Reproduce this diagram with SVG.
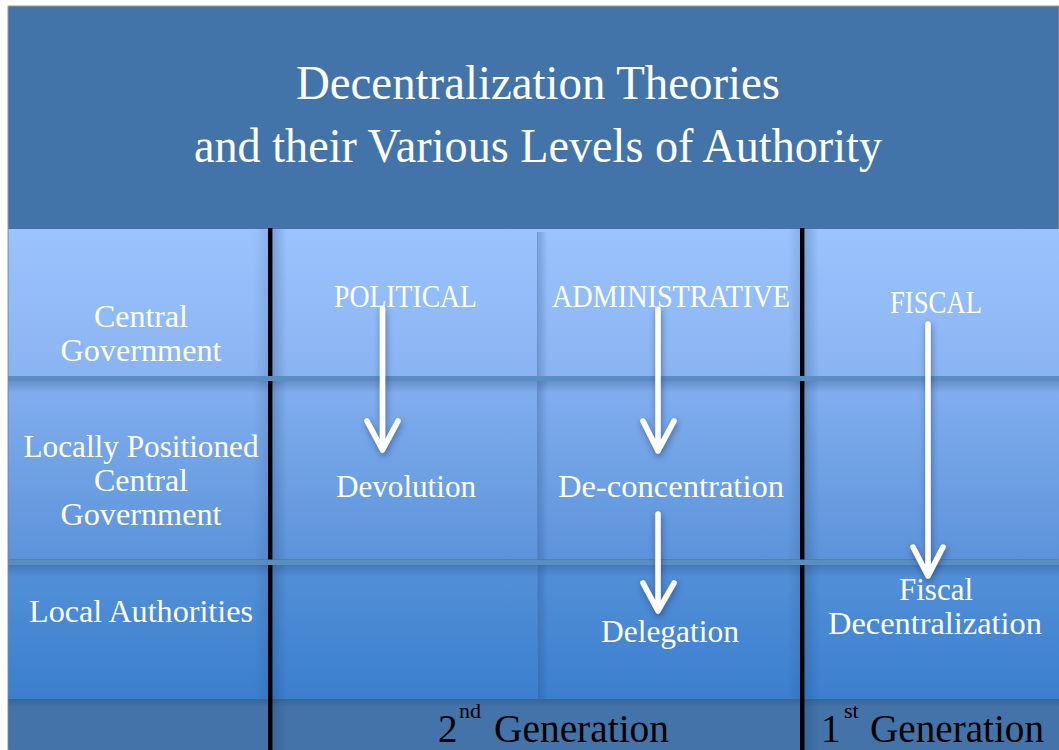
<svg xmlns="http://www.w3.org/2000/svg" width="1059" height="750" viewBox="0 0 1059 750">
  <style>
    .lbl { font-family: "Liberation Serif", "DejaVu Serif", serif; fill: #ffffff; text-anchor: middle; }
    .title { font-size: 48px; }
    .row { font-size: 32.5px; }
    .col { font-size: 32.5px; }
    .gen { font-family: "Liberation Serif", "DejaVu Serif", serif; fill: #000000; font-size: 39px; }
    .sup { font-size: 22px; }
    .sep { fill: #5A8EC1; }
    .rule { fill: #000000; }
    .arrow { fill: none; stroke: #ffffff; stroke-width: 5.5; stroke-linecap: round; stroke-linejoin: round; }
  </style>
  <defs>
    <linearGradient id="row1" x1="0" y1="0" x2="0" y2="1">
      <stop offset="0" stop-color="#9BC4FE"/>
      <stop offset="1" stop-color="#8AB4F1"/>
    </linearGradient>
    <linearGradient id="row2" x1="0" y1="0" x2="0" y2="1">
      <stop offset="0" stop-color="#83AFEF"/>
      <stop offset="1" stop-color="#5B93DA"/>
    </linearGradient>
    <linearGradient id="row3" x1="0" y1="0" x2="0" y2="1">
      <stop offset="0" stop-color="#5490D8"/>
      <stop offset="1" stop-color="#3A7FCE"/>
    </linearGradient>
    <linearGradient id="shadeDown" x1="0" y1="0" x2="0" y2="1">
      <stop offset="0" stop-color="#1E3E6E" stop-opacity="0.28"/>
      <stop offset="1" stop-color="#1E3E6E" stop-opacity="0"/>
    </linearGradient>
    <linearGradient id="shadeRight" x1="0" y1="0" x2="1" y2="0">
      <stop offset="0" stop-color="#1E3E6E" stop-opacity="0.25"/>
      <stop offset="1" stop-color="#1E3E6E" stop-opacity="0"/>
    </linearGradient>
    <linearGradient id="shadeLeft" x1="1" y1="0" x2="0" y2="0">
      <stop offset="0" stop-color="#1E3E6E" stop-opacity="0.15"/>
      <stop offset="1" stop-color="#1E3E6E" stop-opacity="0"/>
    </linearGradient>
    <filter id="glow" x="-50%" y="-20%" width="200%" height="140%">
      <feDropShadow dx="1" dy="3" stdDeviation="3" flood-color="#1A3766" flood-opacity="0.55"/>
    </filter>
  </defs>

  <!-- page and panel frame -->
  <rect x="0" y="0" width="1059" height="750" fill="#ffffff"/>
  <rect x="8" y="6" width="1051" height="744" fill="#4374A9" stroke="#9A9A9A" stroke-width="1"/>

  <!-- table body rows -->
  <rect x="8.5" y="229" width="1050.5" height="147" fill="url(#row1)"/>
  <rect x="8.5" y="381" width="1050.5" height="178" fill="url(#row2)"/>
  <rect x="8.5" y="565" width="1050.5" height="134" fill="url(#row3)"/>
  <rect x="8.5" y="699" width="1050.5" height="51" fill="#4373A8"/>

  <!-- soft cell shadows -->
  <rect x="8.5" y="381" width="1050.5" height="12" fill="url(#shadeDown)"/>
  <rect x="8.5" y="565" width="1050.5" height="12" fill="url(#shadeDown)"/>
  <rect x="8.5" y="699" width="1050.5" height="8" fill="url(#shadeDown)"/>
  <rect x="273" y="229" width="14" height="521" fill="url(#shadeRight)"/>
  <rect x="805" y="229" width="14" height="521" fill="url(#shadeRight)"/>
  <rect x="538" y="232" width="10" height="467" fill="url(#shadeRight)"/>
  <rect x="254" y="229" width="14" height="470" fill="url(#shadeLeft)"/>
  <rect x="788" y="229" width="12" height="470" fill="url(#shadeLeft)"/>
  <rect x="537" y="232" width="1" height="467" fill="#4F7FBE" opacity="0.6"/>

  <!-- column rules -->
  <rect class="rule" x="268" y="228" width="4.5" height="522"/>
  <rect class="rule" x="800" y="228" width="4.5" height="522"/>

  <!-- row separators -->
  <rect class="sep" x="8.5" y="376" width="1050.5" height="5"/>
  <rect class="sep" x="8.5" y="559.5" width="1050.5" height="5.5"/>

  <g id="title">
    <text class="lbl title" x="538" y="99" textLength="484" lengthAdjust="spacingAndGlyphs">Decentralization Theories</text>
    <text class="lbl title" x="538" y="162" textLength="688" lengthAdjust="spacingAndGlyphs">and their Various Levels of Authority</text>
  </g>

  <g id="row-central">
    <text class="lbl row"><tspan x="141" y="327" textLength="94" lengthAdjust="spacingAndGlyphs">Central</tspan><tspan x="141" y="361" textLength="161" lengthAdjust="spacingAndGlyphs">Government</tspan></text>
  </g>
  <g id="row-local-central">
    <text class="lbl row"><tspan x="141" y="457" textLength="235" lengthAdjust="spacingAndGlyphs">Locally Positioned</tspan><tspan x="141" y="491" textLength="94" lengthAdjust="spacingAndGlyphs">Central</tspan><tspan x="141" y="525" textLength="161" lengthAdjust="spacingAndGlyphs">Government</tspan></text>
  </g>
  <g id="row-local">
    <text class="lbl row" x="141" y="622" textLength="224" lengthAdjust="spacingAndGlyphs">Local Authorities</text>
  </g>

  <g id="col-political">
    <text class="lbl col" x="405.5" y="306.5" textLength="143" lengthAdjust="spacingAndGlyphs">POLITICAL</text>
  </g>
  <g id="col-administrative">
    <text class="lbl col" x="671" y="306.5" textLength="238" lengthAdjust="spacingAndGlyphs">ADMINISTRATIVE</text>
  </g>
  <g id="col-fiscal">
    <text class="lbl col" x="936" y="313" textLength="92" lengthAdjust="spacingAndGlyphs">FISCAL</text>
  </g>

  <g id="devolution">
    <text class="lbl col" x="406" y="497" textLength="140" lengthAdjust="spacingAndGlyphs">Devolution</text>
  </g>
  <g id="deconcentration">
    <text class="lbl col" x="671" y="497" textLength="226" lengthAdjust="spacingAndGlyphs">De-concentration</text>
  </g>
  <g id="delegation">
    <text class="lbl col" x="670" y="641.5" textLength="138" lengthAdjust="spacingAndGlyphs">Delegation</text>
  </g>
  <g id="fiscal-decentralization">
    <text class="lbl col"><tspan x="936" y="600" textLength="74" lengthAdjust="spacingAndGlyphs">Fiscal</tspan><tspan x="935" y="634" textLength="214" lengthAdjust="spacingAndGlyphs">Decentralization</tspan></text>
  </g>

  <g id="second-generation">
    <text class="gen"><tspan x="438" y="742">2</tspan><tspan class="sup" x="459" y="718">nd</tspan><tspan x="494" y="742" textLength="175" lengthAdjust="spacingAndGlyphs">Generation</tspan></text>
  </g>
  <g id="first-generation">
    <text class="gen"><tspan x="821" y="742">1</tspan><tspan class="sup" x="844" y="718">st</tspan><tspan x="870" y="742" textLength="174" lengthAdjust="spacingAndGlyphs">Generation</tspan></text>
  </g>

  <!-- downward arrows -->
  <g id="connectors" filter="url(#glow)">
    <path class="arrow" d="M382.5 309 V449 M367 421 L382.5 450 L398 421"/>
    <path class="arrow" d="M658 309 V450 M643 421 L658 451 L674 421"/>
    <path class="arrow" d="M658 514 V610 M643 583 L658 611 L674 583"/>
    <path class="arrow" d="M928 324 V575 M913 547 L928 576 L943 547"/>
  </g>
</svg>
